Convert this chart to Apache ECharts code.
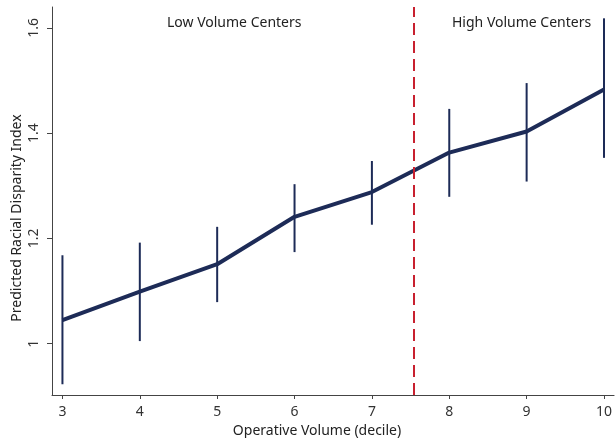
<!DOCTYPE html>
<html>
<head>
<meta charset="utf-8">
<script src="https://cdn.jsdelivr.net/npm/echarts@6/dist/echarts.min.js"></script>
<style>html,body{margin:0;padding:0;background:#fff}#c{width:615px;height:438px}</style>
</head>
<body>
<div id="c"></div>
<script>
const deciles = [3, 4, 5, 6, 7, 8, 9, 10];
const estimate = [1.045, 1.099, 1.151, 1.241, 1.288, 1.363, 1.403, 1.483];
const lower = [0.923, 1.005, 1.079, 1.174, 1.226, 1.279, 1.308, 1.353];
const upper = [1.168, 1.192, 1.222, 1.303, 1.347, 1.446, 1.495, 1.618];
const xTicks = [3, 4, 5, 6, 7, 8, 9, 10];
const yTicks = [1, 1.2, 1.4, 1.6];
const cutoff = 7.535;
const regionLabels = ['Low Volume Centers', 'High Volume Centers'];

const FONT = '"Noto Sans", "Open Sans", sans-serif';
const navy = '#1d2b57';
const chart = echarts.init(document.getElementById('c'), null, {renderer: 'canvas'});

chart.setOption({
  animation: false,
  backgroundColor: '#fff',
  grid: {left: 52, top: 7, right: 0, bottom: 43, containLabel: false},
  xAxis: {
    type: 'value', min: 2.865, max: 10.13,
    axisLine: {show: true, lineStyle: {color: '#444', width: 1}},
    axisTick: {show: true, length: 4, lineStyle: {color: '#444'}, customValues: xTicks},
    axisLabel: {color: '#333', fontSize: 14, fontFamily: FONT, margin: 10, customValues: xTicks,
      formatter: v => String(v)},
    splitLine: {show: false}
  },
  yAxis: {
    type: 'value', min: 0.9026, max: 1.6395,
    axisLine: {show: true, lineStyle: {color: '#444', width: 1}},
    axisTick: {show: true, length: 5, lineStyle: {color: '#444'}, customValues: yTicks},
    axisLabel: {color: '#333', fontSize: 14, fontFamily: FONT, margin: 11, rotate: 90,
      customValues: yTicks, formatter: v => String(Math.round(v * 10) / 10)},
    splitLine: {show: false}
  },
  graphic: [
    {type: 'text', left: 167, top: 16, style: {text: regionLabels[0], font: '14px ' + FONT, fill: '#222'}},
    {type: 'text', left: 452, top: 16, style: {text: regionLabels[1], font: '14px ' + FONT, fill: '#222'}},
    {type: 'text', x: 17, y: 218, rotation: Math.PI / 2,
      style: {text: 'Predicted Racial Disparity Index', font: '14px ' + FONT, fill: '#222', align: 'center', verticalAlign: 'middle'}},
    {type: 'text', x: 317, y: 431,
      style: {text: 'Operative Volume (decile)', font: '14px ' + FONT, fill: '#222', align: 'center', verticalAlign: 'middle'}}
  ],
  series: [
    {
      type: 'custom',
      data: deciles.map((d, i) => [d, lower[i], upper[i]]),
      renderItem: function (params, api) {
        const p1 = api.coord([api.value(0), api.value(1)]);
        const p2 = api.coord([api.value(0), api.value(2)]);
        return {type: 'line', shape: {x1: p1[0], y1: p1[1], x2: p2[0], y2: p2[1]},
          style: {stroke: navy, lineWidth: 2}};
      },
      z: 2
    },
    {
      type: 'line',
      data: deciles.map((d, i) => [d, estimate[i]]),
      symbol: 'none',
      lineStyle: {color: navy, width: 4},
      z: 3,
      markLine: {
        silent: true, symbol: 'none', label: {show: false},
        lineStyle: {color: '#c8202f', width: 2, type: [12, 6]},
        data: [{xAxis: cutoff}]
      }
    }
  ]
});
</script>
</body>
</html>
